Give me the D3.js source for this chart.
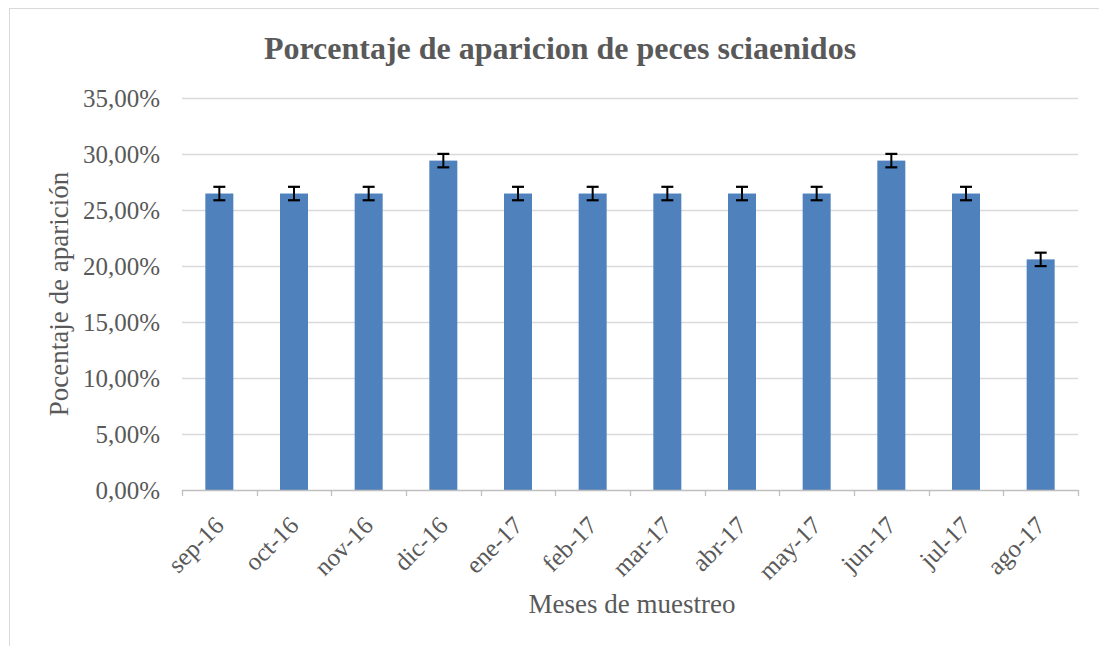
<!DOCTYPE html>
<html>
<head>
<meta charset="utf-8">
<script src="https://cdn.jsdelivr.net/npm/d3@7"></script>
<style>
  body { margin: 0; background: #fff; }
  text { font-family: "Liberation Serif", "Times New Roman", serif; }
</style>
</head>
<body>
<div id="chart"></div>
<script>
// Data
var months = ["sep-16", "oct-16", "nov-16", "dic-16", "ene-17", "feb-17",
              "mar-17", "abr-17", "may-17", "jun-17", "jul-17", "ago-17"];
var percents = [0.2647, 0.2647, 0.2647, 0.2941, 0.2647, 0.2647,
                0.2647, 0.2647, 0.2647, 0.2941, 0.2647, 0.2059];
var errors = [0.006, 0.006, 0.006, 0.006, 0.006, 0.006,
              0.006, 0.006, 0.006, 0.006, 0.006, 0.006];
var yTicks = [0, 0.05, 0.10, 0.15, 0.20, 0.25, 0.30, 0.35];

var W = 1099, H = 646;
var margin = { top: 98, right: 21, bottom: 156, left: 182 },
    width = W - margin.left - margin.right,
    height = H - margin.top - margin.bottom;

var svg = d3.select("#chart").append("svg")
    .attr("width", W).attr("height", H);

// outer chart border (extends past right/bottom edge)
svg.append("rect")
    .attr("x", 9.5).attr("y", 8.5)
    .attr("width", W + 20).attr("height", H + 20)
    .attr("fill", "none").attr("stroke", "#d9d9d9");

var g = svg.append("g")
    .attr("transform", "translate(" + margin.left + "," + margin.top + ")");

var x = d3.scaleBand().domain(months).range([0, width]).paddingInner(0.625).paddingOuter(0.3125);
var xb = d3.scaleBand().domain(months).range([0, width]);
var y = d3.scaleLinear().domain([0, 0.35]).range([height, 0]);

var fmt = function (v) { return (v * 100).toFixed(2).replace(".", ",") + "%"; };

// gridlines
g.selectAll("line.grid").data(yTicks.slice(1)).enter().append("line")
    .attr("class", "grid")
    .attr("x1", 0).attr("x2", width)
    .attr("y1", function (d) { return Math.round(y(d)) + 0.5; })
    .attr("y2", function (d) { return Math.round(y(d)) + 0.5; })
    .attr("stroke", "#d9d9d9").attr("stroke-width", 1.3);

// y axis labels
var yAxis = g.append("g").call(d3.axisLeft(y).tickValues(yTicks).tickFormat(fmt).tickSize(0).tickPadding(22));
yAxis.select(".domain").remove();
yAxis.selectAll("text").attr("fill", "#595959").style("font-size", "25px")
    .style("font-family", "Liberation Serif, serif");

// bars
g.selectAll("rect.bar").data(percents).enter().append("rect")
    .attr("class", "bar")
    .attr("x", function (d, i) { return x(months[i]); })
    .attr("width", x.bandwidth())
    .attr("y", function (d) { return y(d); })
    .attr("height", function (d) { return height - y(d); })
    .attr("fill", "#4f81bd");

// error bars
var eb = g.selectAll("g.err").data(percents).enter().append("g").attr("class", "err")
    .attr("transform", function (d, i) { return "translate(" + (x(months[i]) + x.bandwidth() / 2) + ",0)"; });
eb.append("line")
    .attr("x1", 0).attr("x2", 0)
    .attr("y1", function (d, i) { return y(d + errors[i]); })
    .attr("y2", function (d, i) { return y(d - errors[i]); })
    .attr("stroke", "#000").attr("stroke-width", 2);
eb.append("line")
    .attr("x1", -6).attr("x2", 6)
    .attr("y1", function (d, i) { return y(d + errors[i]); })
    .attr("y2", function (d, i) { return y(d + errors[i]); })
    .attr("stroke", "#000").attr("stroke-width", 2.2);
eb.append("line")
    .attr("x1", -6).attr("x2", 6)
    .attr("y1", function (d, i) { return y(d - errors[i]); })
    .attr("y2", function (d, i) { return y(d - errors[i]); })
    .attr("stroke", "#000").attr("stroke-width", 2.2);

// x axis line and ticks at band boundaries
var xAxisG = g.append("g").attr("transform", "translate(0," + height + ")");
xAxisG.append("line").attr("x1", 0).attr("x2", width).attr("y1", 0.5).attr("y2", 0.5)
    .attr("stroke", "#bfbfbf").attr("stroke-width", 1.3);
var bounds = months.map(function (m) { return xb(m); }).concat([width]);
xAxisG.selectAll("line.tick").data(bounds).enter().append("line")
    .attr("x1", function (d) { return Math.round(d) + 0.5; })
    .attr("x2", function (d) { return Math.round(d) + 0.5; })
    .attr("y1", 0).attr("y2", 6)
    .attr("stroke", "#bfbfbf").attr("stroke-width", 1.3);

// rotated month labels
xAxisG.selectAll("text.mlab").data(months).enter().append("text")
    .attr("class", "mlab")
    .attr("transform", function (d) {
        return "translate(" + (xb(d) + xb.bandwidth() / 2 + 6) + ",37) rotate(-45)";
    })
    .attr("text-anchor", "end")
    .attr("fill", "#595959")
    .style("font-size", "25px")
    .text(function (d) { return d; });

// title
svg.append("text")
    .attr("x", 560).attr("y", 59)
    .attr("text-anchor", "middle")
    .attr("fill", "#595959")
    .style("font-size", "32px").style("font-weight", "bold")
    .text("Porcentaje de aparicion de peces sciaenidos");

// axis titles
svg.append("text")
    .attr("x", 632).attr("y", 613)
    .attr("text-anchor", "middle")
    .attr("fill", "#595959")
    .style("font-size", "27px")
    .text("Meses de muestreo");

svg.append("text")
    .attr("transform", "translate(68," + 294 + ") rotate(-90)")
    .attr("text-anchor", "middle")
    .attr("fill", "#595959")
    .style("font-size", "27px")
    .text("Pocentaje de aparición");
</script>
</body>
</html>
